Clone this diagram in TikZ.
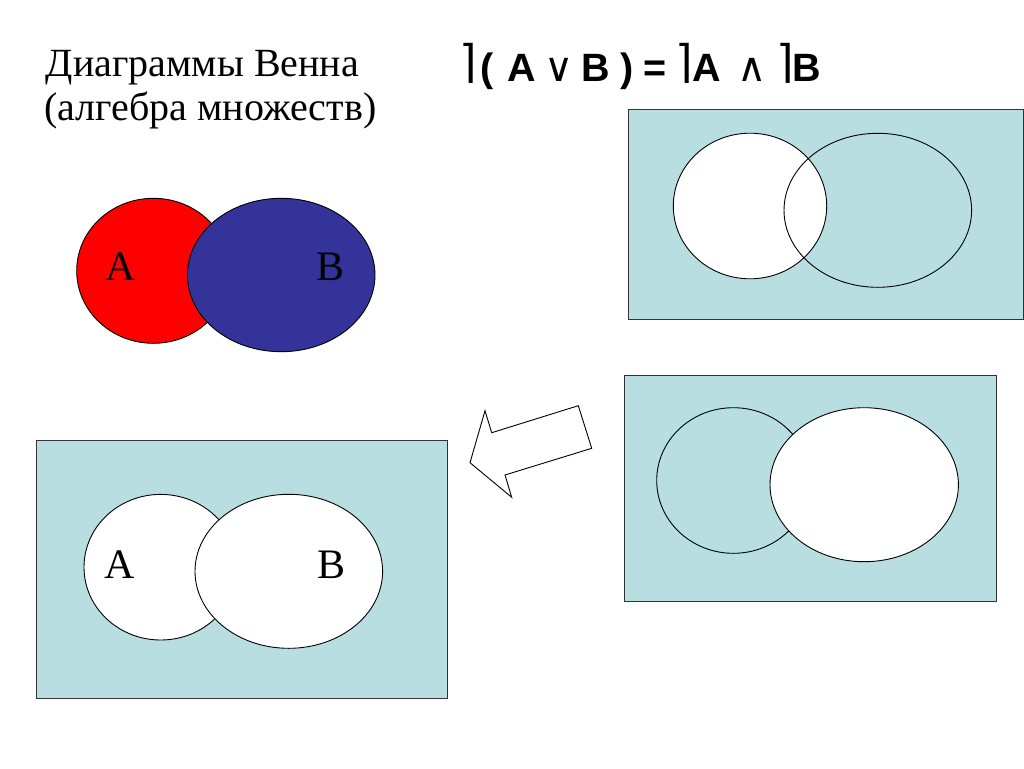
\documentclass[tikz,border=0pt]{standalone}
\usepackage{fontspec}
\setmainfont{Liberation Serif}
\newfontfamily\formfont{Liberation Sans}
\newfontfamily\symfont{DejaVu Sans}
\definecolor{pale}{HTML}{B9DEE2}
\definecolor{vblue}{HTML}{333399}
\begin{document}
\begin{tikzpicture}[x=1pt,y=-1pt,
  box/.style={draw=black!80,line width=1pt,fill=pale},
  ring/.style={draw=black,line width=0.9pt},
  lab/.style={inner sep=0pt,anchor=base west,font=\fontsize{42}{42}\selectfont},
  ttl/.style={inner sep=0pt,anchor=base west,font=\fontsize{40}{40}\selectfont},
  tok/.style={inner sep=0pt,anchor=base west,font=\fontsize{39.5}{39.5}\selectfont\formfont\bfseries},
  negs/.style={inner sep=0pt,anchor=base west,font=\fontsize{45}{45}\selectfont\symfont},
  ops/.style={inner sep=0pt,anchor=base west,font=\fontsize{40}{40}\selectfont\symfont}]
\useasboundingbox (0,0) rectangle (1024,768);
% title
\node[ttl] (t1) at (45.7,76.7) {Диаграммы Венна};
\node[ttl] (t2) at (44,120) {(алгебра множеств)};
% formula
\node[negs] (n1) at (459.5,77.5) {⌉};
\node[tok] (p1) at (480.5,81.7) {(};
\node[tok] (fa) at (507,81.7) {A};
\node[ops] (or) at (544.5,81.7) {∨};
\node[tok] (fb) at (581.5,81.7) {B};
\node[tok] (p2) at (620.5,81.7) {)};
\node[tok] (eq) at (643.5,81.7) {=};
\node[negs] (n2) at (675.5,77.5) {⌉};
\node[tok] (ga) at (692.5,81.7) {A};
\node[ops] (and) at (737.5,81.7) {∧};
\node[negs] (n3) at (776,77.5) {⌉};
\node[tok] (gb) at (792.5,81.7) {B};
% top-left colored venn
\draw[ring,fill=red] (153.4,270.8) ellipse [x radius=76.7,y radius=72.5];
\draw[ring,fill=vblue] (281.2,275) ellipse [x radius=93.8,y radius=76.7];
\node[lab] (la1) at (105,280.7) {A};
\node[lab] (lb1) at (316.7,280.7) {B};
% top-right box: not A
\draw[box] (628.3,109.3) rectangle (1023.3,319);
\draw[ring,fill=white] (750,206) ellipse [x radius=76.7,y radius=72.8];
\draw[ring] (877.8,210.3) ellipse [x radius=93.8,y radius=77];
% middle-right box: not B
\draw[box] (624.3,375.7) rectangle (996,601.7);
\draw[ring] (733.4,480.5) ellipse [x radius=76.7,y radius=72.8];
\draw[ring,fill=white] (864.2,484.7) ellipse [x radius=94.2,y radius=77];
% arrow
\draw[ring,fill=white] (470,462.7) -- (485,410.7) -- (491.7,432.7) -- (578.3,405.7) -- (591.7,448.3) -- (505,475) -- (511.7,497.3) -- cycle;
% bottom-left box
\draw[box] (36,440.7) rectangle (447.7,698.3);
\draw[ring,fill=white] (160.7,567.2) ellipse [x radius=76.7,y radius=72.8];
\draw[ring,fill=white] (288.8,571.3) ellipse [x radius=93.8,y radius=77];
\node[lab] (la2) at (104,578.3) {A};
\node[lab] (lb2) at (317.3,578.3) {B};
\end{tikzpicture}
\end{document}
